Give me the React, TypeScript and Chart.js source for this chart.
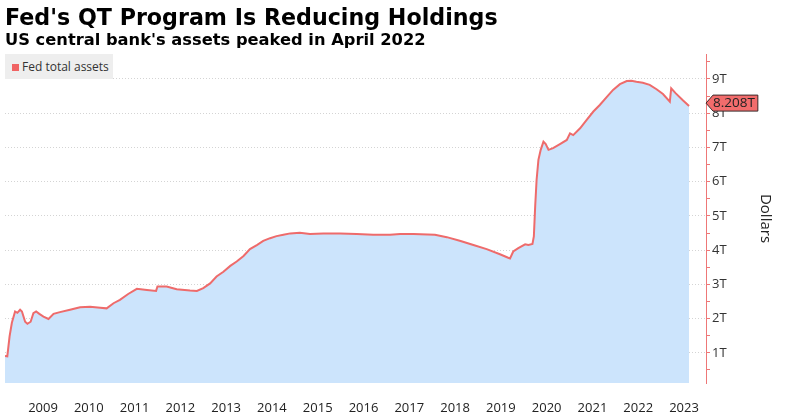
import React, { useEffect, useRef } from "react";
import { Chart, registerables } from "chart.js";

Chart.register(...registerables);

// Dates as decimal years, values in trillions of dollars
const dates: number[] = [
  2008.67, 2008.72, 2008.77, 2008.82, 2008.89, 2008.94, 2009.0, 2009.04, 2009.11, 2009.16,
  2009.23, 2009.29, 2009.35, 2009.42, 2009.51, 2009.62, 2009.73, 2009.87, 2010.09, 2010.31,
  2010.53, 2010.75, 2010.89, 2011.04, 2011.18, 2011.36, 2011.55, 2011.77, 2011.97, 2012.0,
  2012.2, 2012.42, 2012.71, 2012.86, 2013.0, 2013.15, 2013.29, 2013.44, 2013.59, 2013.73,
  2013.88, 2014.02, 2014.17, 2014.31, 2014.46, 2014.6, 2014.75, 2014.9, 2015.11, 2015.33,
  2015.62, 2015.99, 2016.35, 2016.71, 2017.08, 2017.3, 2017.59, 2018.06, 2018.32, 2018.62,
  2018.9, 2019.19, 2019.48, 2019.66, 2019.7, 2019.77, 2019.88, 2020.03, 2020.1, 2020.19,
  2020.22, 2020.25, 2020.28, 2020.32, 2020.37, 2020.43, 2020.48, 2020.54, 2020.64, 2020.79,
  2020.94, 2021.01, 2021.08, 2021.23, 2021.37, 2021.52, 2021.66, 2021.81, 2021.95, 2022.1,
  2022.25, 2022.35, 2022.46, 2022.6, 2022.75, 2022.9, 2023.04, 2023.19, 2023.22, 2023.32,
  2023.48, 2023.61,
];

const fedTotalAssets: number[] = [
  0.91, 0.9, 1.48, 1.88, 2.21, 2.17, 2.26, 2.21, 1.91, 1.85,
  1.91, 2.16, 2.21, 2.14, 2.06, 1.99, 2.14, 2.19, 2.26, 2.33,
  2.35, 2.32, 2.3, 2.45, 2.55, 2.72, 2.87, 2.84, 2.81, 2.94,
  2.94, 2.86, 2.82, 2.81, 2.89, 3.03, 3.23, 3.37, 3.54, 3.67,
  3.83, 4.03, 4.15, 4.27, 4.35, 4.41, 4.45, 4.49, 4.51, 4.47,
  4.49, 4.49, 4.47, 4.45, 4.45, 4.47, 4.47, 4.45, 4.38, 4.27,
  4.15, 4.03, 3.88, 3.78, 3.76, 3.96, 4.06, 4.17, 4.15, 4.18,
  4.4, 5.3, 6.05, 6.64, 6.93, 7.17, 7.1, 6.93, 6.98, 7.1,
  7.22, 7.41, 7.36, 7.56, 7.8, 8.05, 8.24, 8.47, 8.68, 8.85,
  8.94, 8.95, 8.92, 8.89, 8.83, 8.7, 8.56, 8.34, 8.73, 8.58,
  8.37, 8.208,
];

const tickYears: number[] = [
  2009, 2010, 2011, 2012, 2013, 2014, 2015, 2016, 2017, 2018, 2019, 2020, 2021, 2022, 2023,
];
const tickLabels: string[] = tickYears.map((y) => String(y));

const yTickValues: number[] = [0.5, 1, 1.5, 2, 2.5, 3, 3.5, 4, 4.5, 5, 5.5, 6, 6.5, 7, 7.5, 8, 8.5, 9, 9.5];

const seriesName = "Fed total assets";
const LINE = "#ee6b6b";
const FILL = "#cce4fc";
const FONT = "'Open Sans', 'Noto Sans', sans-serif";

const lastLabelPlugin = {
  id: "lastLabel",
  afterDraw(chart: any) {
    const ds = chart.data.datasets[0].data as { x: number; y: number }[];
    const last = ds[ds.length - 1];
    const yScale = chart.scales.y;
    const ctx = chart.ctx as CanvasRenderingContext2D;
    const yv = yScale.getPixelForValue(last.y) - 3;
    const x0 = chart.chartArea.right;
    const h = 8;
    const text = last.y.toFixed(3) + "T";
    ctx.save();
    ctx.font = `13.5px ${FONT}`;
    const tw = ctx.measureText(text).width;
    ctx.beginPath();
    ctx.moveTo(x0, yv);
    ctx.lineTo(x0 + 7, yv - h);
    ctx.lineTo(x0 + 10 + tw, yv - h);
    ctx.lineTo(x0 + 10 + tw, yv + h);
    ctx.lineTo(x0 + 7, yv + h);
    ctx.closePath();
    ctx.fillStyle = "#f26c6c";
    ctx.fill();
    ctx.strokeStyle = "#3a2a2a";
    ctx.lineWidth = 1;
    ctx.stroke();
    ctx.fillStyle = "#222";
    ctx.textBaseline = "middle";
    ctx.textAlign = "left";
    ctx.fillText(text, x0 + 7, yv + 0.5);
    ctx.restore();
  },
};

export default function App() {
  const canvasRef = useRef<HTMLCanvasElement | null>(null);

  useEffect(() => {
    document.body.style.margin = "0";
    const canvas = canvasRef.current;
    if (!canvas) return;
    const points = dates.map((d, i) => ({ x: d, y: fedTotalAssets[i] }));
    const chart = new Chart(canvas, {
      type: "line",
      data: {
        datasets: [
          {
            label: seriesName,
            data: points,
            borderColor: LINE,
            borderWidth: 2,
            backgroundColor: FILL,
            fill: "start",
            pointRadius: 0,
            tension: 0,
          },
        ],
      },
      options: {
        responsive: false,
        animation: false,
        layout: { padding: { left: 5, top: 54, right: 0, bottom: 0 } },
        plugins: {
          legend: { display: false },
          tooltip: { enabled: false },
          title: { display: false },
        },
        scales: {
          x: {
            type: "linear",
            min: 2008.67,
            max: 2023.98,
            grid: { display: false, drawTicks: false },
            border: { display: false },
            afterBuildTicks: (scale: any) => {
              scale.ticks = tickYears.map((y) => ({ value: y + 0.5 }));
            },
            afterFit: (scale: any) => {
              scale.height = 35;
            },
            ticks: {
              autoSkip: false,
              maxRotation: 0,
              minRotation: 0,
              padding: 17,
              color: "#222",
              font: { family: FONT, size: 13 },
              callback: (_v: any, i: number) => tickLabels[i],
            },
          },
          y: {
            type: "linear",
            position: "right",
            min: 0.12,
            max: 9.73,
            afterBuildTicks: (scale: any) => {
              scale.ticks = yTickValues.map((v) => ({ value: v }));
            },
            afterFit: (scale: any) => {
              scale.width = 79;
            },
            border: { display: true, color: "#ee7777", width: 1, dash: [1, 2] },
            grid: {
              color: (c: any) =>
                c.tick && Number.isInteger(c.tick.value) ? "#d4d4d4" : "rgba(0,0,0,0)",
              tickColor: "#ee7777",
              tickLength: 4,
              tickBorderDash: [],
              lineWidth: 1,
            },
            ticks: {
              autoSkip: false,
              padding: 2,
              color: "#333",
              font: { family: FONT, size: 13 },
              callback: (v: any) => (Number.isInteger(v) ? v + "T" : ""),
            },
            title: {
              display: true,
              text: "Dollars",
              color: "#222",
              font: { family: FONT, size: 15 },
              padding: { top: 11, bottom: 0 },
            },
          },
        },
      },
      plugins: [lastLabelPlugin],
    });
    return () => chart.destroy();
  }, []);

  return (
    <div style={{ position: "absolute", left: 0, top: 0, width: 785, height: 418, background: "#fff", overflow: "hidden" }}>
      <canvas ref={canvasRef} width={785} height={418} style={{ position: "absolute", left: 0, top: 0 }} />
      <div
        style={{
          position: "absolute",
          left: 5,
          top: 6,
          fontFamily: "'DejaVu Sans', Verdana, sans-serif",
          fontWeight: "bold",
          fontSize: 22.2,
          lineHeight: "22px",
          color: "#000",
          whiteSpace: "nowrap",
        }}
      >
        Fed's QT Program Is Reducing Holdings
      </div>
      <div
        style={{
          position: "absolute",
          left: 5,
          top: 31,
          fontFamily: "'DejaVu Sans', Verdana, sans-serif",
          fontWeight: "bold",
          fontSize: 16.3,
          lineHeight: "17px",
          color: "#000",
          whiteSpace: "nowrap",
        }}
      >
        US central bank's assets peaked in April 2022
      </div>
      <div
        style={{
          position: "absolute",
          left: 5,
          top: 54,
          width: 108,
          height: 25,
          background: "#eeeeee",
          fontFamily: FONT,
          fontSize: 12,
          color: "#333",
        }}
      >
        <span
          style={{ position: "absolute", left: 7, top: 10, width: 7, height: 7, background: "#f06363" }}
        />
        <span style={{ position: "absolute", left: 17, top: 4, lineHeight: "17px", whiteSpace: "nowrap" }}>
          {seriesName}
        </span>
      </div>
    </div>
  );
}
